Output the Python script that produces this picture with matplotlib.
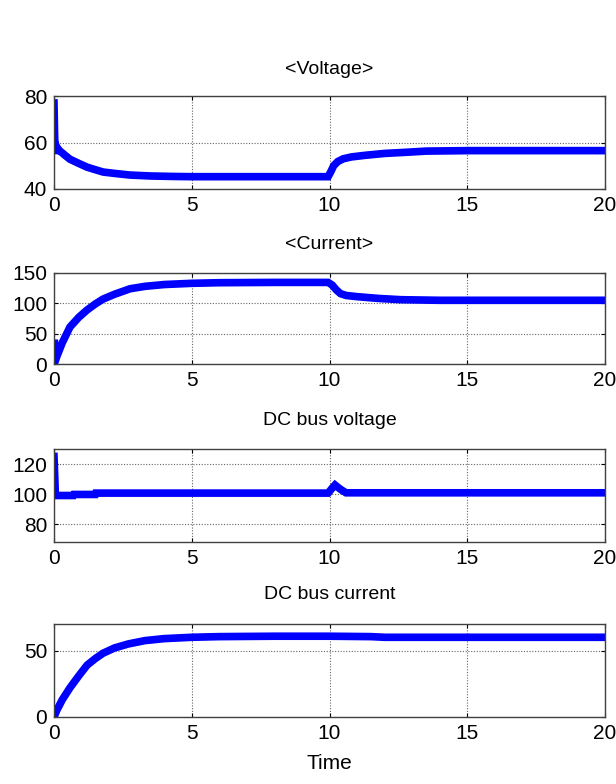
"""
Four stacked time traces: <Voltage>, <Current>, DC bus voltage, DC bus current.
"""

import matplotlib
matplotlib.use("Agg")
import matplotlib.pyplot as plt

plt.rcParams["font.family"] = ["Liberation Sans", "DejaVu Sans"]

# --- data -------------------------------------------------------------------
volt_t = [0, 0.02, 0.04, 0.06, 0.1, 0.2, 0.4, 0.58, 0.9, 1.2, 1.5, 1.78, 2.2,
          2.76, 3.5, 4.3, 5, 6, 8, 9.95, 10.05, 10.15, 10.3, 10.5, 10.8, 11.3,
          12, 12.8, 13.5, 15, 17.5, 20]
volt_v = [77, 64, 55, 59, 58, 56.5, 54.5, 52.8, 51, 49.4, 48.3, 47.3, 46.7,
          46, 45.6, 45.4, 45.3, 45.3, 45.3, 45.3, 47.5, 50, 51.8, 53, 53.8, 54.5,
          55.3, 55.8, 56.3, 56.5, 56.5, 56.5]

curr_t = [0, 0.01, 0.03, 0.1, 0.3, 0.58, 0.9, 1.2, 1.5, 1.78, 2.2, 2.76, 3.3,
          4, 5, 6, 8, 9.95, 10.1, 10.25, 10.4, 10.6, 11, 11.8, 12.6, 14, 16, 20]
curr_i = [0, 40, 3, 12, 35, 61, 77, 89, 99, 107, 115, 124, 128,
          131, 133, 134, 134.5, 134.5, 130, 122, 116, 113, 111, 108, 106, 105, 105, 105]

dcv_t = [0, 0.03, 0.05, 0.7, 0.72, 1.5, 1.52, 9.95, 10.1, 10.2, 10.3, 10.45, 10.6, 20]
dcv_v = [125, 110, 99, 99, 99.7, 99.7, 100.6, 100.6, 104, 106, 104.5, 102.5, 100.8, 100.8]

dci_t = [0, 0.1, 0.3, 0.58, 0.9, 1.2, 1.5, 1.78, 2.2, 2.7, 3.3, 4, 5, 6, 8,
         10, 11.5, 12, 15, 20]
dci_i = [0, 5, 13, 22, 31, 39, 44, 48, 52, 55, 57.5, 59, 60, 60.5, 60.8,
         60.8, 60.5, 60, 60, 60]

titles = ["<Voltage>", "<Current>", "DC bus voltage", "DC bus current"]
ylims = [(40, 80), (0, 150), (68, 130), (0, 70)]
yticks = [[40, 60, 80], [0, 50, 100, 150], [80, 100, 120], [0, 50]]
xticks = [0, 5, 10, 15, 20]

# axes boxes in pixels: (top, bottom), title pad in points
W, H = 616, 784
LEFT, RIGHT = 54, 605
boxes = [(96, 189), (273, 364), (449, 542), (624, 717)]
pads = [16, 17, 17, 18]

series = [(volt_t, volt_v), (curr_t, curr_i), (dcv_t, dcv_v), (dci_t, dci_i)]

fig = plt.figure(figsize=(W / 100, H / 100), dpi=100)

for k, ((top, bot), (t, y)) in enumerate(zip(boxes, series)):
    ax = fig.add_axes([LEFT / W, 1 - bot / H, (RIGHT - LEFT) / W, (bot - top) / H])
    ax.plot(t, y, color="#0000ff", lw=5.5, solid_joinstyle="miter")
    ax.set_xlim(0, 20)
    ax.set_ylim(*ylims[k])
    ax.set_xticks(xticks)
    ax.set_yticks(yticks[k])
    ax.grid(True, color="0.4", ls=(0, (1, 1.5)), lw=0.8)
    ax.tick_params(direction="in", length=3, width=0.8, top=True, right=True,
                   labelsize=15, pad=5, colors="black")
    for s in ax.spines.values():
        s.set_color("0.25")
        s.set_linewidth(1.0)
    ax.set_title(titles[k], fontsize=14, pad=pads[k])
    if k == 3:
        ax.set_xlabel("Time", fontsize=15, labelpad=8)

fig.savefig("out.png", dpi=100)
